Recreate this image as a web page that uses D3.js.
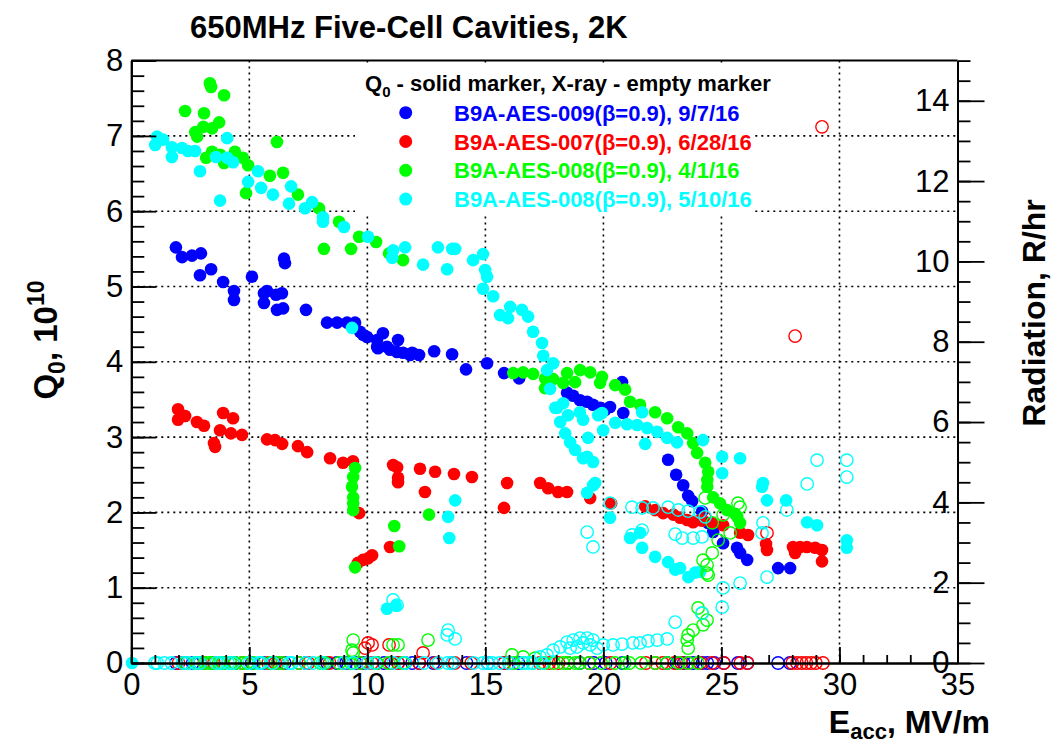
<!DOCTYPE html>
<html>
<head>
<meta charset="utf-8">
<script src="https://cdn.jsdelivr.net/npm/d3@7"></script>
<style>
  body { margin: 0; background: #fff; }
  svg { display: block; font-family: "Liberation Sans", Arial, Helvetica, sans-serif; }
</style>
</head>
<body>
<svg id="chart" width="1061" height="744"></svg>
<script>
// Q0 (left axis, 10^10) - solid markers, [Eacc, Q0]
const q009 = [[1.89,5.52],[2.15,5.39],[2.57,5.41],[2.95,5.44],[2.91,5.15],[3.38,5.23],[3.89,5.06],[4.35,4.94],[4.35,4.82],[5.11,5.13],[5.62,4.91],[5.62,4.78],[5.75,4.94],[6.13,4.89],[6.17,4.69],[6.38,4.91],[6.43,4.71],[6.47,5.37],[6.51,5.31],[7.40,4.69],[8.29,4.52],[8.72,4.52],[9.14,4.52],[9.48,4.52],[9.69,4.40],[9.82,4.36],[9.99,4.33],[10.41,4.29],[10.41,4.20],[10.45,4.18],[10.66,4.38],[10.83,4.20],[10.96,4.16],[11.26,4.13],[11.30,4.29],[11.51,4.12],[11.81,4.09],[11.90,4.12],[12.19,4.09],[12.83,4.14],[13.59,4.10],[14.18,3.90],[15.07,3.98],[15.79,3.85],[16.43,3.78],[18.46,3.59],[18.72,3.55],[19.01,3.49],[19.31,3.47],[19.56,3.43],[19.86,3.39],[20.07,3.36],[20.28,3.40],[20.79,3.73],[20.84,3.32],[22.74,2.70],[23.08,2.50],[23.38,2.36],[23.59,2.22],[23.76,2.15],[24.18,2.01],[24.44,1.86],[24.65,1.74],[25.07,1.59],[25.66,1.53],[25.79,1.46],[26.09,1.37],[27.40,1.26],[27.91,1.26]];
const q007 = [[1.98,3.37],[1.98,3.23],[2.28,3.28],[2.78,3.20],[3.08,3.15],[3.50,2.92],[3.55,2.87],[3.89,3.32],[4.31,3.25],[3.76,3.09],[4.22,3.05],[4.69,3.03],[5.75,2.97],[6.09,2.96],[6.39,2.91],[7.06,2.88],[7.45,2.80],[8.42,2.72],[8.97,2.66],[9.39,2.68],[9.65,1.99],[9.60,1.33],[9.82,1.37],[10.03,1.39],[10.20,1.43],[10.96,1.54],[11.09,2.63],[11.26,2.60],[11.30,2.46],[11.30,2.40],[12.23,2.58],[12.44,2.27],[12.87,2.54],[13.67,2.51],[14.43,2.47],[15.79,2.06],[15.92,2.39],[17.32,2.39],[17.66,2.32],[18.08,2.27],[18.46,2.27],[19.44,2.19],[20.33,2.12],[21.77,2.08],[22.19,2.03],[22.53,1.99],[22.96,1.97],[23.25,1.93],[23.55,1.90],[23.80,1.87],[24.10,1.90],[24.61,1.86],[25.07,1.83],[25.79,1.73],[26.13,1.70],[26.89,1.58],[26.93,1.50],[28.03,1.54],[28.12,1.46],[28.33,1.54],[28.62,1.54],[28.97,1.53],[29.26,1.50],[29.26,1.35]];
const q008a = [[2.28,7.33],[3.33,7.70],[3.38,7.65],[3.93,7.54],[3.08,7.30],[2.71,7.05],[2.79,6.99],[3.05,7.12],[3.42,7.10],[3.72,7.18],[3.17,6.71],[3.42,6.79],[3.76,6.75],[3.93,6.64],[4.39,6.79],[4.73,6.71],[4.95,6.61],[6.17,6.92],[5.87,6.47],[6.43,6.51],[4.86,6.24],[7.06,6.22],[7.95,6.04],[8.16,5.50],[8.80,5.86],[9.31,5.50],[9.65,5.66],[10.37,5.59],[10.92,5.44],[11.51,5.35],[9.48,2.59],[9.40,2.47],[9.35,2.34],[9.40,2.20],[9.40,2.12],[9.40,2.03],[9.48,1.27],[11.14,1.82],[11.35,1.55],[12.61,1.97],[16.18,3.85],[16.60,3.86],[17.02,3.84],[17.53,3.78],[17.87,3.77],[17.53,3.65],[18.46,3.85],[19.01,3.89],[19.44,3.86],[18.29,3.72],[18.80,3.73],[19.94,3.80],[19.86,3.72],[20.50,3.69],[20.92,3.63],[21.13,3.47],[21.55,3.43],[22.19,3.33],[22.70,3.25],[23.17,3.13],[23.55,3.05],[23.80,2.92],[23.97,2.79],[24.31,2.66],[24.44,2.54],[24.40,2.43],[24.40,2.34],[24.65,2.20],[24.94,2.12],[25.24,2.03],[25.58,1.98],[25.67,1.94],[25.79,1.86]];
const q008b = [[0.03,0],[1.01,6.88],[1.09,6.99],[1.35,6.95],[1.72,6.85],[1.72,6.72],[2.15,6.84],[2.40,6.80],[2.70,6.80],[2.91,6.53],[4.06,6.97],[3.59,6.72],[4.06,6.71],[4.31,6.65],[3.76,6.14],[4.95,6.39],[5.37,6.53],[5.50,6.31],[6.00,6.22],[6.68,6.10],[6.77,6.33],[7.36,6.04],[7.66,6.12],[8.12,5.92],[8.12,5.86],[9.01,5.79],[10.03,5.66],[9.35,4.45],[11.09,5.48],[11.60,5.52],[11.05,5.38],[12.36,5.29],[12.99,5.52],[13.59,5.50],[13.72,5.50],[13.38,5.23],[14.48,5.35],[14.90,5.43],[14.99,5.22],[15.07,5.13],[14.90,4.97],[15.33,4.87],[15.62,4.62],[16.05,4.73],[16.55,4.69],[16.81,4.60],[15.96,4.58],[17.02,4.40],[17.40,4.25],[17.45,4.08],[17.87,3.98],[17.61,3.89],[17.74,3.64],[18.29,3.45],[17.96,3.39],[18.04,3.39],[18.50,3.29],[18.17,3.20],[18.38,3.05],[18.59,2.93],[18.80,2.83],[19.14,2.72],[19.56,2.67],[19.00,3.33],[19.14,3.23],[19.35,2.99],[19.78,3.29],[19.94,3.32],[19.99,3.09],[20.50,3.19],[21.00,3.17],[21.43,3.16],[21.85,3.12],[22.28,3.07],[22.70,2.99],[23.12,2.93],[21.77,2.91],[21.64,3.33],[19.31,2.74],[19.65,2.39],[19.31,2.26],[19.56,2.36],[20.28,1.93],[21.13,1.66],[21.55,1.73],[21.64,1.53],[22.19,1.41],[22.74,1.34],[23.04,1.24],[23.25,1.26],[23.60,1.14],[23.88,1.20],[24.10,1.21],[24.22,2.96],[25.03,2.74],[25.03,2.52],[25.79,2.72],[26.76,2.39],[26.72,2.34],[26.93,2.16],[27.74,2.16],[28.63,1.87],[29.05,1.83],[30.31,1.63],[30.31,1.53],[13.72,2.16],[13.42,1.94],[13.47,1.66],[10.83,0.72],[11.21,0.76]];

// X-ray (right axis, R/hr) - empty markers, [Eacc, radiation]
const x009 = [[1.9,0],[2.2,0],[2.6,0],[2.9,0],[3.4,0],[3.9,0],[4.4,0],[5.1,0],[5.6,0],[6.2,0],[6.5,0],[7.4,0],[8.3,0],[8.7,0],[9.1,0],[9.5,0],[9.8,0],[10.0,0],[10.4,0],[10.7,0],[11.0,0],[11.3,0],[11.6,0],[11.9,0],[12.2,0],[12.8,0],[13.6,0],[14.2,0],[15.1,0],[15.8,0],[16.4,0],[18.5,0],[19.0,0],[19.6,0],[20.1,0],[20.8,0],[22.7,0],[23.1,0],[23.4,0],[23.8,0],[24.2,0],[24.4,0],[24.7,0],[25.1,0],[25.7,0],[26.1,0],[27.4,0],[27.9,0]];
const x007 = [[2.0,0],[2.3,0],[2.8,0],[3.1,0],[3.5,0],[3.9,0],[4.3,0],[4.7,0],[5.8,0],[6.1,0],[6.4,0],[7.1,0],[7.5,0],[8.4,0],[9.0,0],[9.4,0],[9.7,0],[10.0,0],[10.2,0],[11.0,0],[11.3,0],[12.2,0],[12.9,0],[13.7,0],[14.4,0],[15.8,0],[16.0,0],[17.3,0],[17.7,0],[18.1,0],[18.5,0],[19.4,0],[20.3,0],[21.8,0],[22.2,0],[22.5,0],[23.0,0],[23.3,0],[23.6,0],[24.1,0],[24.6,0],[25.1,0],[25.8,0],[26.1,0],[28.0,0],[28.2,0],[28.4,0],[28.6,0],[28.8,0],[29.0,0],[29.3,0],[29.26,13.35],[28.12,8.14],[26.93,3.24],[24.18,3.56],[24.31,3.61],[10.03,0.50],[9.90,0.37],[10.20,0.45],[10.92,0.45],[12.36,0.25]];
const x008a = [[2.3,0],[2.7,0],[2.8,0],[3.1,0],[3.3,0],[3.4,0],[3.7,0],[3.9,0],[4.2,0],[4.4,0],[4.7,0],[4.9,0],[5.2,0],[5.5,0],[5.9,0],[6.2,0],[6.4,0],[7.1,0],[8.0,0],[8.2,0],[8.8,0],[9.3,0],[9.7,0],[10.4,0],[10.9,0],[11.5,0],[16.2,0],[16.6,0],[17.0,0],[17.5,0],[17.9,0],[18.3,0],[18.5,0],[18.8,0],[19.0,0],[19.4,0],[19.9,0],[20.5,0],[20.9,0],[21.1,0],[21.6,0],[22.2,0],[22.7,0],[23.2,0],[23.6,0],[24.0,0],[24.31,4.11],[25.07,3.69],[25.70,3.98],[25.79,3.88],[24.61,3.49],[24.86,3.06],[25.37,3.24],[24.61,2.74],[24.22,2.56],[24.39,2.44],[24.39,2.24],[24.44,2.19],[24.01,1.37],[24.18,1.24],[24.39,1.07],[24.22,0.95],[23.80,0.82],[23.59,0.70],[23.55,0.57],[23.59,0.37],[16.13,0.20],[16.60,0.15],[17.11,0.12],[9.40,0.57],[9.35,0.32],[9.40,0.25],[11.09,0.45],[11.30,0.45],[12.57,0.57]];
const x008b = [[1.0,0],[1.1,0],[1.4,0],[1.7,0],[2.2,0],[2.4,0],[2.7,0],[2.9,0],[3.6,0],[3.8,0],[4.1,0],[4.3,0],[5.0,0],[5.4,0],[5.5,0],[6.0,0],[6.7,0],[6.8,0],[7.4,0],[7.7,0],[8.1,0],[9.0,0],[9.4,0],[10.0,0],[10.3,0],[11.1,0],[11.6,0],[12.4,0],[13.0,0],[13.4,0],[13.6,0],[14.5,0],[14.9,0],[15.1,0],[15.3,0],[15.6,0],[16.0,0],[16.6,0],[16.8,0],[17.0,0],[17.4,0],[20.28,3.98],[21.21,3.88],[21.64,3.86],[22.10,3.86],[22.74,3.88],[23.17,3.81],[23.59,3.78],[24.10,3.76],[24.31,3.64],[19.31,3.26],[19.56,2.89],[21.21,3.19],[21.64,3.31],[23.04,3.21],[23.34,3.11],[23.80,3.11],[24.18,3.14],[26.76,3.49],[26.72,3.24],[26.93,2.14],[25.79,1.99],[25.07,1.87],[25.03,1.39],[23.04,1.02],[24.18,1.24],[27.77,3.81],[28.63,4.46],[29.05,5.05],[30.31,5.05],[30.31,4.63],[22.70,0.60],[22.28,0.57],[21.89,0.55],[21.55,0.50],[21.25,0.50],[20.79,0.47],[20.41,0.45],[19.99,0.45],[19.73,0.37],[19.56,0.57],[19.44,0.45],[19.31,0.62],[19.14,0.50],[19.01,0.62],[18.88,0.40],[18.72,0.57],[18.59,0.37],[18.46,0.52],[18.17,0.40],[17.87,0.32],[17.61,0.20],[17.32,0.15],[13.42,0.82],[13.38,0.70],[13.72,0.60],[11.09,1.57],[11.26,1.44]];

const seriesLabels = ["B9A-AES-009(\u03b2=0.9), 9/7/16", "B9A-AES-007(\u03b2=0.9), 6/28/16", "B9A-AES-008(\u03b2=0.9), 4/1/16", "B9A-AES-008(\u03b2=0.9), 5/10/16"];
const seriesColors = ["#0000ff", "#ff0000", "#00ff00", "#00ffff"];
const qSeries = [q009, q007, q008a, q008b];
const xraySeries = [x009, x007, x008a, x008b];

const xTicks = [0, 5, 10, 15, 20, 25, 30, 35];
const qTicks = [0, 1, 2, 3, 4, 5, 6, 7, 8];
const radTicks = [0, 2, 4, 6, 8, 10, 12, 14];

const svg = d3.select("#chart");
const plotLeft = 131.3, plotRight = 957.5, plotTop = 60.6, plotBottom = 663;

const x = d3.scaleLinear().domain([0, 35]).range([plotLeft, plotRight]);
const yQ = d3.scaleLinear().domain([0, 8]).range([plotBottom, plotTop]);
const yR = d3.scaleLinear().domain([0, 15]).range([plotBottom, plotTop]);

svg.append("rect").attr("width", 1061).attr("height", 744).attr("fill", "#fff");

// grid
const grid = svg.append("g").attr("stroke", "#000").attr("stroke-width", 1.6).attr("stroke-dasharray", "2,4");
grid.selectAll("line.v").data(xTicks.slice(1, -1)).enter().append("line")
  .attr("x1", d => x(d)).attr("x2", d => x(d)).attr("y1", plotTop).attr("y2", plotBottom);
grid.selectAll("line.h").data(qTicks.slice(1, -1)).enter().append("line")
  .attr("x1", plotLeft).attr("x2", plotRight).attr("y1", d => yQ(d)).attr("y2", d => yQ(d));

// solid markers (Q0)
qSeries.forEach((s, i) => {
  svg.append("g").selectAll("circle").data(s).enter().append("circle")
    .attr("cx", d => x(d[0])).attr("cy", d => yQ(d[1])).attr("r", 6.3)
    .attr("fill", seriesColors[i]);
});

// empty markers (X-ray)
xraySeries.forEach((s, i) => {
  svg.append("g").selectAll("circle").data(s).enter().append("circle")
    .attr("cx", d => x(d[0])).attr("cy", d => yR(d[1])).attr("r", 6.2)
    .attr("fill", "none").attr("stroke", seriesColors[i]).attr("stroke-width", 1.4);
});

// legend
const leg = svg.append("g");
leg.append("rect").attr("x", 355).attr("y", 63).attr("width", 397).attr("height", 152).attr("fill", "#fff");
const head = leg.append("text").attr("x", 365).attr("y", 91)
  .attr("font-size", 22).attr("font-weight", "bold").attr("fill", "#000");
head.append("tspan").text("Q");
head.append("tspan").attr("dy", 6).attr("font-size", 15).text("0");
head.append("tspan").attr("dy", -6).text(" - solid marker, X-ray - empty marker");
seriesLabels.forEach((lab, i) => {
  const cy = 112.7 + i * 28.8;
  leg.append("circle").attr("cx", 405.7).attr("cy", cy).attr("r", 6.5).attr("fill", seriesColors[i]);
  leg.append("text").attr("x", 454).attr("y", cy + 8)
    .attr("font-size", 22).attr("font-weight", "bold").attr("fill", seriesColors[i]).text(lab);
});

// axes
function styleAxis(g) {
  g.selectAll("path.domain").attr("stroke", "#000").attr("stroke-width", 2);
  g.selectAll(".tick line").attr("stroke", "#000").attr("stroke-width", 1.8);
  g.selectAll("text").attr("font-size", 31).attr("fill", "#000")
    .attr("font-family", "'Liberation Sans', Arial, Helvetica, sans-serif");
}

svg.append("g").attr("transform", `translate(0,${plotBottom})`)
  .call(d3.axisBottom(x).tickValues(d3.range(0, 36, 1)).tickSizeInner(-8).tickSizeOuter(0).tickFormat(""))
  .call(styleAxis);
svg.append("g").attr("transform", `translate(0,${plotBottom})`)
  .call(d3.axisBottom(x).tickValues(xTicks).tickSizeInner(-16).tickSizeOuter(0).tickPadding(10).tickFormat(d3.format("d")))
  .call(styleAxis);

svg.append("g").attr("transform", `translate(${plotLeft},0)`)
  .call(d3.axisLeft(yQ).tickValues(d3.range(0, 8.01, 0.2)).tickSizeInner(-13).tickSizeOuter(0).tickFormat(""))
  .call(styleAxis);
svg.append("g").attr("transform", `translate(${plotLeft},0)`)
  .call(d3.axisLeft(yQ).tickValues(qTicks).tickSizeInner(-25).tickSizeOuter(0).tickPadding(8).tickFormat(d3.format("d")))
  .call(styleAxis);

svg.append("g").attr("transform", `translate(${plotRight},0)`)
  .call(d3.axisLeft(yR).tickValues(d3.range(0, 15.01, 0.5)).tickSizeInner(-13).tickSizeOuter(0).tickFormat(""))
  .call(styleAxis);
svg.append("g").attr("transform", `translate(${plotRight},0)`)
  .call(d3.axisLeft(yR).tickValues(radTicks).tickSizeInner(-27).tickSizeOuter(0).tickPadding(8).tickFormat(d3.format("d")))
  .call(styleAxis);

svg.append("line").attr("x1", plotLeft).attr("x2", plotRight).attr("y1", plotTop).attr("y2", plotTop)
  .attr("stroke", "#000").attr("stroke-width", 2);

// titles
svg.append("text").attr("x", 190).attr("y", 38).attr("font-size", 31).attr("font-weight", "bold")
  .text("650MHz Five-Cell Cavities, 2K");

const xt = svg.append("text").attr("x", 990).attr("y", 733).attr("text-anchor", "end")
  .attr("font-size", 32).attr("font-weight", "bold");
xt.append("tspan").text("E");
xt.append("tspan").attr("dy", 6).attr("font-size", 22).text("acc");
xt.append("tspan").attr("dy", -6).text(", MV/m");

const yt = svg.append("text").attr("transform", "translate(57,340) rotate(-90)").attr("text-anchor", "middle")
  .attr("font-size", 33).attr("font-weight", "bold");
yt.append("tspan").text("Q");
yt.append("tspan").attr("dy", 8).attr("font-size", 23).text("0");
yt.append("tspan").attr("dy", -8).text(", 10");
yt.append("tspan").attr("dy", -13).attr("font-size", 23).text("10");

svg.append("text").attr("transform", "translate(1045,313) rotate(-90)").attr("text-anchor", "middle")
  .attr("font-size", 32).attr("font-weight", "bold").text("Radiation, R/hr");
</script>
</body>
</html>
